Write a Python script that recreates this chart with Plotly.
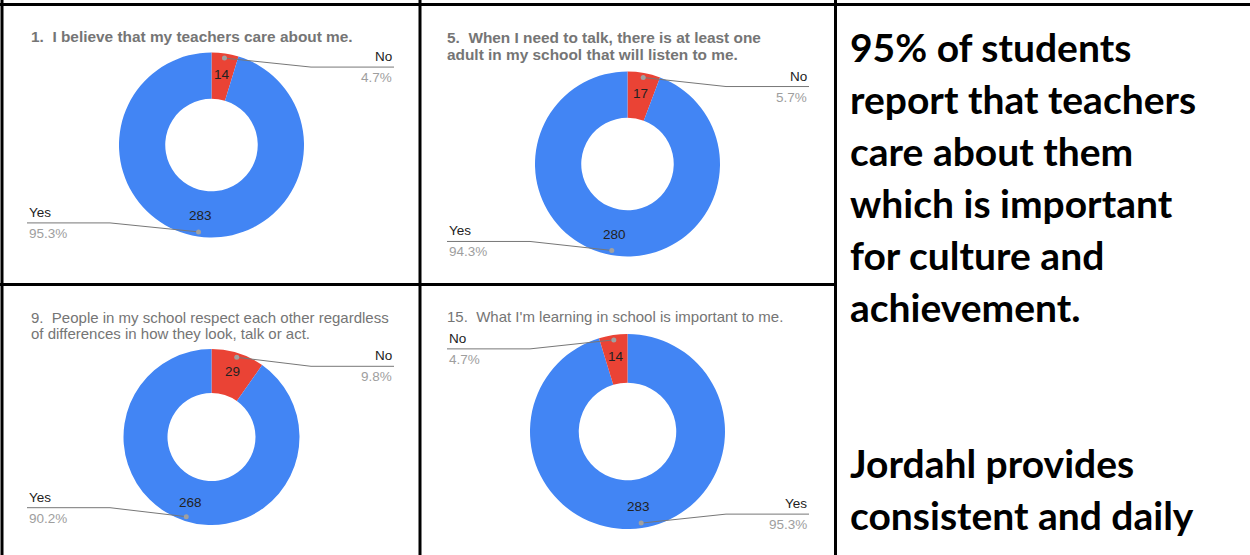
import math
import plotly.graph_objects as go

W, H = 1250, 555

# ── data ──
titles = [
    ["1.  I believe that my teachers care about me."],
    ["5.  When I need to talk, there is at least one", "adult in my school that will listen to me."],
    ["9.  People in my school respect each other regardless", "of differences in how they look, talk or act."],
    ["15.  What I'm learning in school is important to me."],
]
title_bold = [True, True, False, False]
slice_labels = [["No", "Yes"], ["No", "Yes"], ["No", "Yes"], ["Yes", "No"]]
slice_values = [[14, 283], [17, 280], [29, 268], [283, 14]]
slice_colors = {"No": "#ea4335", "Yes": "#4285f4"}

side_text = [
    "95% of students",
    "report that teachers",
    "care about them",
    "which is important",
    "for culture and",
    "achievement.",
    "",
    "",
    "Jordahl provides",
    "consistent and daily",
]

# ── layout (pixels, origin top-left) ──
panels = [(0, 0, 420, 284), (420, 0, 835, 284), (0, 284, 420, 555), (420, 284, 835, 555)]
donuts = [(211.5, 145, 92.5), (627.5, 164, 92.5), (211.5, 437, 88), (627.5, 431.5, 97.5)]
title_top = [36, 38, 317, 316]

FONT = "Liberation Sans, Arial, sans-serif"


def X(px):
    return px / W


def Y(py):
    return 1 - py / H


fig = go.Figure()
annotations = []
shapes = []

for i in range(4):
    cx, cy, r = donuts[i]
    pl, pt, pr, pb = panels[i]
    labels = slice_labels[i]
    values = slice_values[i]
    total = sum(values)

    fig.add_trace(go.Pie(
        labels=labels, values=values, hole=0.5, sort=False,
        direction="clockwise", rotation=0,
        marker=dict(colors=[slice_colors[l] for l in labels], line=dict(width=0)),
        textinfo="none", hoverinfo="label+value+percent", showlegend=False,
        domain=dict(x=[X(cx - r), X(cx + r)], y=[Y(cy + r), Y(cy - r)]),
    ))

    # title
    for j, line in enumerate(titles[i]):
        txt = f"<b>{line}</b>" if title_bold[i] else line
        annotations.append(dict(
            x=X(pl + 29 if pl == 0 else pl + 25), y=Y(title_top[i] + 16 * j),
            xref="paper", yref="paper", xanchor="left", yanchor="middle",
            text=txt, showarrow=False,
            font=dict(family=FONT, size=15.4 if title_bold[i] else 15, color="#757575"),
        ))

    # slice labels + leader lines
    start = 0.0
    for lab, v in zip(labels, values):
        frac = v / total
        mid = (start + frac / 2) * 2 * math.pi
        start += frac
        sx, sy = math.sin(mid), -math.cos(mid)

        # value inside the ring
        annotations.append(dict(
            x=X(cx + 0.775 * r * sx), y=Y(cy + 0.775 * r * sy),
            xref="paper", yref="paper", xanchor="center", yanchor="middle",
            showarrow=False, text=str(v),
            font=dict(family=FONT, size=13.5, color="#222222"),
        ))

        dx, dy = cx + 0.95 * r * sx, cy + 0.95 * r * sy
        ly = dy + 9 if sy < 0 else dy - 9
        if sx > 0:
            end = pr - 26
            elbow = end - 83
            anchor = "right"
        else:
            end = pl + 27
            elbow = end + 83
            anchor = "left"

        shapes.append(dict(type="line", xref="paper", yref="paper",
                           x0=X(dx), y0=Y(dy), x1=X(elbow), y1=Y(ly),
                           line=dict(color="#777777", width=1)))
        shapes.append(dict(type="line", xref="paper", yref="paper",
                           x0=X(elbow), y0=Y(ly), x1=X(end), y1=Y(ly),
                           line=dict(color="#777777", width=1)))
        shapes.append(dict(type="circle", xref="paper", yref="paper",
                           x0=X(dx - 2.5), x1=X(dx + 2.5), y0=Y(dy + 2.5), y1=Y(dy - 2.5),
                           fillcolor="#a0a0a0", line=dict(width=0)))

        annotations.append(dict(
            x=X(end), y=Y(ly - 1), xref="paper", yref="paper",
            xanchor=anchor, yanchor="bottom", showarrow=False, text=lab,
            font=dict(family=FONT, size=13.5, color="#222222"),
        ))
        annotations.append(dict(
            x=X(end), y=Y(ly + 1), xref="paper", yref="paper",
            xanchor=anchor, yanchor="top", showarrow=False,
            text=f"{frac * 100:.1f}%",
            font=dict(family=FONT, size=13.5, color="#9e9e9e"),
        ))

# right-hand text block
for k, line in enumerate(side_text):
    if not line:
        continue
    annotations.append(dict(
        x=X(848), y=Y(47 + 52 * k), xref="paper", yref="paper",
        xanchor="left", yanchor="middle", showarrow=False,
        text=f"<b>{line}</b>",
        font=dict(family="Lato, Carlito, sans-serif", size=39, color="#000000"),
    ))

# panel borders
border = dict(color="#000000", width=3)
for x0, y0, x1, y1 in [(0, 4.5, W, 4.5), (2, 0, 2, H), (420, 0, 420, H),
                       (835.5, 0, 835.5, H), (0, 284.5, 835.5, 284.5)]:
    shapes.append(dict(type="line", xref="paper", yref="paper",
                       x0=X(x0), y0=Y(y0), x1=X(x1), y1=Y(y1), line=border))

fig.update_layout(
    width=W, height=H,
    margin=dict(l=0, r=0, t=0, b=0),
    paper_bgcolor="white", plot_bgcolor="white",
    annotations=annotations, shapes=shapes,
)

fig.write_html("out.html", config={"displayModeBar": False},
               post_script="document.body.style.margin='0';")
